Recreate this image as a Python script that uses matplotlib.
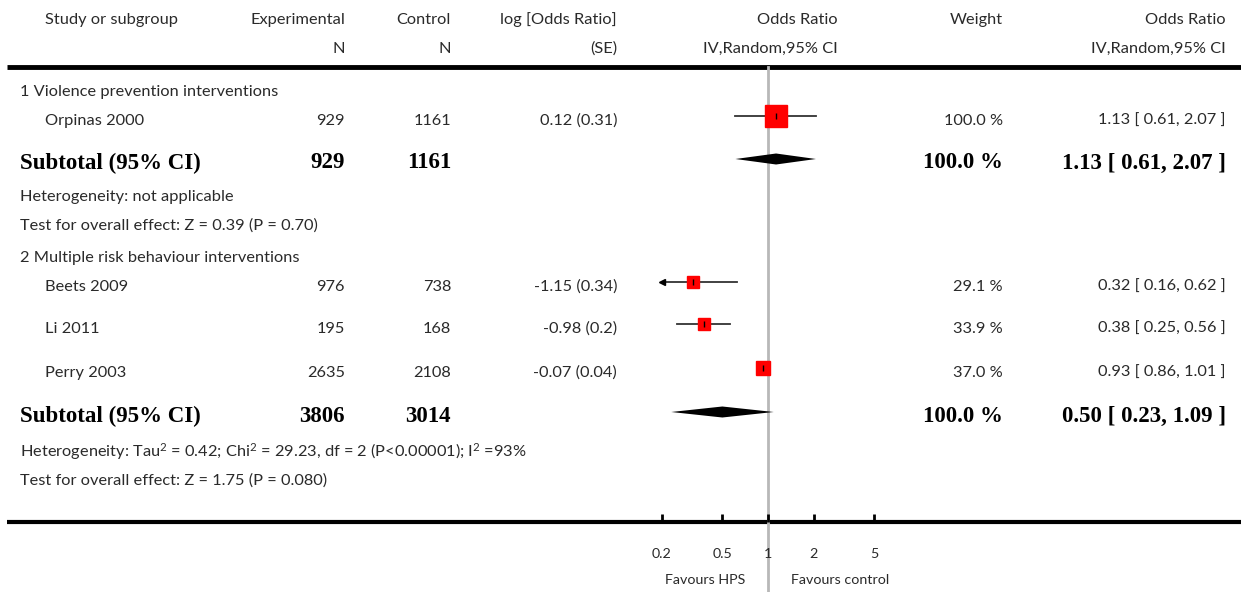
import numpy as np
import matplotlib
matplotlib.use("Agg")
import matplotlib.pyplot as plt

# data
studies = ["Orpinas 2000", "Beets 2009", "Li 2011", "Perry 2003"]
exp_n = [929, 976, 195, 2635]
ctl_n = [1161, 738, 168, 2108]
log_or = [0.12, -1.15, -0.98, -0.07]
log_se = [0.31, 0.34, 0.2, 0.04]
weights = [100.0, 29.1, 33.9, 37.0]
or_est = [1.13, 0.32, 0.38, 0.93]
or_lo = [0.61, 0.16, 0.25, 0.86]
or_hi = [2.07, 0.62, 0.56, 1.01]

groups = ["1 Violence prevention interventions", "2 Multiple risk behaviour interventions"]
sub_exp = [929, 3806]
sub_ctl = [1161, 3014]
sub_est = [1.13, 0.50]
sub_lo = [0.61, 0.23]
sub_hi = [2.07, 1.09]
heterogeneity = ["Heterogeneity: not applicable",
                 "Heterogeneity: Tau$^{2}$ = 0.42; Chi$^{2}$ = 29.23, df = 2 (P<0.00001); I$^{2}$ =93%"]
overall = ["Test for overall effect: Z = 0.39 (P = 0.70)",
           "Test for overall effect: Z = 1.75 (P = 0.080)"]
ticks = [0.2, 0.5, 1, 2, 5]
tick_labels = ["0.2", "0.5", "1", "2", "5"]

# layout (pixel rows)
W, H = 1241, 592
study_rows = [119, 285, 327, 371]
group_rows = [90, 256]
sub_rows = [161, 414]
het_rows = [195, 450]
test_rows = [224, 479]
y_top, y_axis = 67, 522
x_lo_px, x_hi_px = 662, 874

sans = "Lato"
serif = "Liberation Serif"
tc = "#2a2a2a"
fs = 11.8
fsb = 16.5
ty = 2  # text baseline nudge

plt.rcParams["mathtext.fontset"] = "custom"
plt.rcParams["mathtext.rm"] = sans
plt.rcParams["mathtext.it"] = sans
plt.rcParams["mathtext.default"] = "regular"

fig = plt.figure(figsize=(W / 100, H / 100), dpi=100)
ax = fig.add_axes([0, 0, 1, 1])
ax.set_xlim(0, W)
ax.set_ylim(H, 0)
ax.axis("off")

def txt(x, y, s, ha="left", bold=False, **kw):
    if bold:
        ax.text(x, y + ty, s, ha=ha, va="center", fontsize=fsb, fontfamily=serif,
                fontweight="bold", color="black", **kw)
    else:
        ax.text(x, y + ty, s, ha=ha, va="center", fontsize=fs, fontfamily=sans,
                color=tc, **kw)

# header
cols = {"exp": 345, "ctl": 451, "lor": 617, "orh": 838, "wt": 1003, "or": 1226}
txt(45, 18, "Study or subgroup")
txt(cols["exp"], 18, "Experimental", ha="right")
txt(cols["exp"], 47, "N", ha="right")
txt(cols["ctl"], 18, "Control", ha="right")
txt(cols["ctl"], 47, "N", ha="right")
txt(cols["lor"], 18, "log [Odds Ratio]", ha="right")
txt(cols["lor"], 47, "(SE)", ha="right")
txt(cols["orh"], 18, "Odds Ratio", ha="right")
txt(cols["orh"], 47, "IV,Random,95% CI", ha="right")
txt(cols["wt"], 18, "Weight", ha="right")
txt(cols["or"], 18, "Odds Ratio", ha="right")
txt(cols["or"], 47, "IV,Random,95% CI", ha="right")
ax.plot([7, W], [y_top, y_top], color="black", lw=3.5, solid_capstyle="butt")
ax.plot([7, W], [y_axis, y_axis], color="black", lw=3, solid_capstyle="butt")

# study rows
for i, name in enumerate(studies):
    y = study_rows[i]
    txt(45, y, name)
    txt(cols["exp"], y, str(exp_n[i]), ha="right")
    txt(cols["ctl"], y, str(ctl_n[i]), ha="right")
    txt(cols["lor"], y, f"{log_or[i]} ({log_se[i]})", ha="right")
    txt(cols["wt"], y, f"{weights[i]:.1f} %", ha="right")
    txt(cols["or"], y, f"{or_est[i]:.2f} [ {or_lo[i]:.2f}, {or_hi[i]:.2f} ]", ha="right")

for g in range(2):
    txt(20, group_rows[g], groups[g])
    y = sub_rows[g]
    txt(20, y, "Subtotal (95% CI)", bold=True)
    txt(cols["exp"], y, str(sub_exp[g]), ha="right", bold=True)
    txt(cols["ctl"], y, str(sub_ctl[g]), ha="right", bold=True)
    txt(cols["wt"], y, "100.0 %", ha="right", bold=True)
    txt(cols["or"], y, f"{sub_est[g]:.2f} [ {sub_lo[g]:.2f}, {sub_hi[g]:.2f} ]", ha="right", bold=True)
    txt(20, het_rows[g], heterogeneity[g])
    txt(20, test_rows[g], overall[g])

# forest axes
fx = fig.add_axes([x_lo_px / W, (H - y_axis) / H, (x_hi_px - x_lo_px) / W, (y_axis - y_top) / H])
fx.set_xscale("log")
fx.set_xlim(0.2, 5)
fx.set_ylim(y_axis, y_top)
fx.patch.set_visible(False)
for s in fx.spines.values():
    s.set_visible(False)
fx.set_yticks([])
fx.set_xticks(ticks)
fx.set_xticklabels(tick_labels, fontsize=fs - 1.5, fontfamily=sans, color=tc)
fx.minorticks_off()
fx.tick_params(axis="x", direction="in", length=6, width=2, pad=19, color="black")

fx.plot([1, 1], [y_top, H], color="#b8b8b8", lw=2, clip_on=False, zorder=1)

dy = -3
for i in range(len(studies)):
    y = study_rows[i] + dy
    lo = max(or_lo[i], 0.2)
    fx.plot([lo, or_hi[i]], [y, y], color="#333333", lw=1.3, zorder=2, clip_on=False)
    if or_lo[i] < 0.2:
        fx.plot([0.2], [y], marker="<", color="black", ms=4, zorder=3, clip_on=False)
    sz = 22 * np.sqrt(weights[i] / 100) * 0.72
    fx.plot([or_est[i]], [y], marker="s", ms=sz, color="red", mec="red", zorder=3, clip_on=False)
    fx.plot([or_est[i]], [y], marker="|", ms=5, color="black", mew=1, zorder=4, clip_on=False)

for g in range(2):
    y = sub_rows[g] - 2
    h = 5.5
    fx.fill([sub_lo[g], sub_est[g], sub_hi[g], sub_est[g]], [y, y - h, y, y + h],
            color="black", lw=0, zorder=3, clip_on=False)

ax.text(745, 580, "Favours HPS", ha="right", va="center", fontsize=fs - 1.5,
        fontfamily=sans, color=tc)
ax.text(791, 580, "Favours control", ha="left", va="center", fontsize=fs - 1.5,
        fontfamily=sans, color=tc)

fig.savefig("out.png", dpi=100)
